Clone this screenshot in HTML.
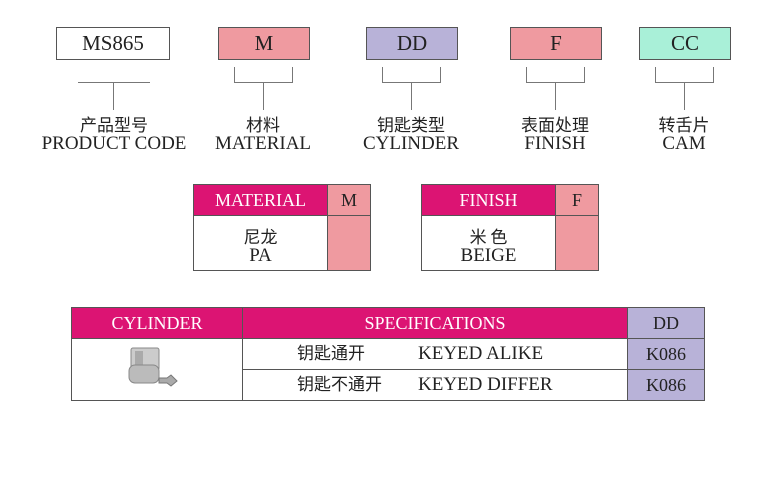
<!DOCTYPE html><html><head><meta charset="utf-8"><style>
body{margin:0;width:778px;height:500px;background:#fff;position:relative;font-family:"Liberation Serif","Noto Serif CJK SC",serif;color:#222;overflow:hidden}
.a{position:absolute;box-sizing:border-box}
.box{border:1px solid #555;font-size:21px;text-align:center;line-height:30px}
.l{background:#777}
.t{text-align:center;font-size:19px;line-height:18px}
.cn{font-family:"Noto Sans CJK SC",sans-serif;font-size:17px}
.mg{background:#dc1473;color:#fff}
.c{display:flex;align-items:center;justify-content:center}
.row{display:flex;align-items:center;height:30px}
</style></head><body>
<div class="a box" style="left:56px;top:27px;width:114px;height:33px">MS865</div>
<div class="a box" style="left:218px;top:27px;width:92px;height:33px;background:#ef9aa0">M</div>
<div class="a box" style="left:366px;top:27px;width:92px;height:33px;background:#b8b2d8">DD</div>
<div class="a box" style="left:510px;top:27px;width:92px;height:33px;background:#ef9aa0">F</div>
<div class="a box" style="left:639px;top:27px;width:92px;height:33px;background:#a9f0d8">CC</div>

<div class="a l" style="left:78px;top:82px;width:72px;height:1px"></div>
<div class="a l" style="left:113px;top:82px;width:1px;height:28px"></div>

<div class="a" style="left:234px;top:67px;width:59px;height:16px;border:1px solid #777;border-top:none"></div>
<div class="a l" style="left:263px;top:82px;width:1px;height:28px"></div>
<div class="a" style="left:382px;top:67px;width:59px;height:16px;border:1px solid #777;border-top:none"></div>
<div class="a l" style="left:411px;top:82px;width:1px;height:28px"></div>
<div class="a" style="left:526px;top:67px;width:59px;height:16px;border:1px solid #777;border-top:none"></div>
<div class="a l" style="left:555px;top:82px;width:1px;height:28px"></div>
<div class="a" style="left:655px;top:67px;width:59px;height:16px;border:1px solid #777;border-top:none"></div>
<div class="a l" style="left:684px;top:82px;width:1px;height:28px"></div>

<div class="a t" style="left:24px;top:115px;width:180px"><span class="cn">产品型号</span><br>PRODUCT CODE</div>
<div class="a t" style="left:183px;top:115px;width:160px"><span class="cn">材料</span><br>MATERIAL</div>
<div class="a t" style="left:331px;top:115px;width:160px"><span class="cn">钥匙类型</span><br>CYLINDER</div>
<div class="a t" style="left:475px;top:115px;width:160px"><span class="cn">表面处理</span><br>FINISH</div>
<div class="a t" style="left:604px;top:115px;width:160px"><span class="cn">转舌片</span><br>CAM</div>

<div class="a" style="left:193px;top:184px;width:178px;height:87px;border:1px solid #555"></div>
<div class="a mg c" style="left:194px;top:185px;width:133px;height:30px;font-size:18px">MATERIAL</div>
<div class="a c" style="left:327px;top:185px;width:43px;height:30px;background:#ef9aa0;font-size:18px;border-left:1px solid #555">M</div>
<div class="a" style="left:194px;top:215px;width:176px;height:1px;background:#555"></div>
<div class="a" style="left:327px;top:216px;width:43px;height:54px;background:#ef9aa0;border-left:1px solid #555"></div>
<div class="a t" style="left:194px;top:227px;width:133px"><span class="cn">尼龙</span><br>PA</div>

<div class="a" style="left:421px;top:184px;width:178px;height:87px;border:1px solid #555"></div>
<div class="a mg c" style="left:422px;top:185px;width:133px;height:30px;font-size:18px">FINISH</div>
<div class="a c" style="left:555px;top:185px;width:43px;height:30px;background:#ef9aa0;font-size:18px;border-left:1px solid #555">F</div>
<div class="a" style="left:422px;top:215px;width:176px;height:1px;background:#555"></div>
<div class="a" style="left:555px;top:216px;width:43px;height:54px;background:#ef9aa0;border-left:1px solid #555"></div>
<div class="a t" style="left:422px;top:227px;width:133px"><span class="cn">米 色</span><br>BEIGE</div>

<div class="a" style="left:71px;top:307px;width:634px;height:94px;border:1px solid #555"></div>
<div class="a mg c" style="left:72px;top:308px;width:170px;height:30px;font-size:18px">CYLINDER</div>
<div class="a mg c" style="left:243px;top:308px;width:384px;height:30px;font-size:18px">SPECIFICATIONS</div>
<div class="a" style="left:242px;top:308px;width:1px;height:92px;background:#555"></div>
<div class="a c" style="left:627px;top:308px;width:77px;height:92px;background:#b8b2d8;border-left:1px solid #555"></div>
<div class="a c" style="left:628px;top:308px;width:76px;height:30px;font-size:18px">DD</div>
<div class="a" style="left:72px;top:338px;width:632px;height:1px;background:#555"></div>
<div class="a" style="left:243px;top:369px;width:461px;height:1px;background:#555"></div>
<div class="a c" style="left:628px;top:339px;width:76px;height:30px;font-size:18px">K086</div>
<div class="a c" style="left:628px;top:370px;width:76px;height:30px;font-size:18px">K086</div>
<div class="a row" style="left:297px;top:339px"><span class="cn" style="width:121px;position:relative;top:-3px">钥匙通开</span><span style="font-size:19px">KEYED ALIKE</span></div>
<div class="a row" style="left:297px;top:370px"><span class="cn" style="width:121px;position:relative;top:-3px">钥匙不通开</span><span style="font-size:19px">KEYED DIFFER</span></div>
<svg class="a" style="left:125px;top:343px" width="60" height="52" viewBox="0 0 60 52">
<rect x="6" y="5" width="28" height="22" rx="2" fill="#ccc" stroke="#888"/>
<rect x="10" y="8" width="8" height="14" fill="#aaa"/>
<rect x="4" y="22" width="30" height="18" rx="6" fill="#bbb" stroke="#888"/>
<path d="M34 35 L42 35 L46 32 L52 38 L46 43 L42 40 L34 40Z" fill="#aaa" stroke="#777"/>
</svg>
</body></html>
